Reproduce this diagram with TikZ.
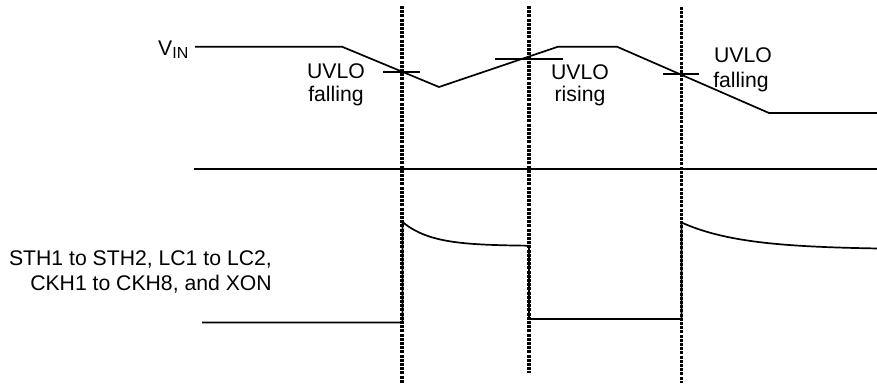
\documentclass[tikz,border=0pt]{standalone}
\usepackage{fontspec}
\setmainfont{Liberation Sans}
\begin{document}
\begin{tikzpicture}[x=1pt,y=-1pt,
  sig/.style={line width=1.7pt, line join=miter},
  marker/.style={line width=3.4pt, dash pattern=on 3pt off 1.2pt},
  lbl/.style={font=\fontsize{21.2}{25}\selectfont, inner sep=0pt, anchor=base}]
\useasboundingbox (0,0) rectangle (877,383);
% dotted markers
\draw[marker] (402,6) -- (402,383);
\draw[marker] (529,6) -- (529,373);
\draw[marker] (681.5,7) -- (681.5,383);
% VIN waveform
\draw[sig] (195,46.7) -- (342,46.7) -- (439,87) -- (558,46.7) -- (617,46.7) -- (769,113) -- (877,113);
% UVLO thresholds
\draw[sig] (383,72) -- (420,72);
\draw[sig] (495,59) -- (563,59);
\draw[sig] (663,74) -- (699,74);
% middle line
\draw[sig] (194,169.3) -- (877,169.3);
% output waveform
\draw[sig] (202,322.5) -- (402.5,322.5) -- (402.5,222)
  plot[domain=402.5:529,samples=40,smooth] (\x,{246-24*exp(-(\x-402.5)/29)})
  -- (529,319) -- (681.5,319) -- (681.5,222.5)
  plot[domain=681.5:877,samples=50,smooth] (\x,{249.5-27*exp(-(\x-681.5)/60)});
% labels
\node[lbl, anchor=base west] (vin) at (158,55) {V\raisebox{-3pt}{\fontsize{16}{16}\selectfont IN}};
\node[lbl] (u1a) at (336,78) {UVLO};
\node[lbl] (u1b) at (336,101) {falling};
\node[lbl] (u2a) at (580,79) {UVLO};
\node[lbl] (u2b) at (580,101) {rising};
\node[lbl] (u3a) at (743,62) {UVLO};
\node[lbl] (u3b) at (741,87) {falling};
\node[lbl, anchor=base east] (s1) at (272,265) {STH1 to STH2, LC1 to LC2,};
\node[lbl, anchor=base east] (s2) at (272,290.5) {CKH1 to CKH8, and XON};
\end{tikzpicture}
\end{document}
